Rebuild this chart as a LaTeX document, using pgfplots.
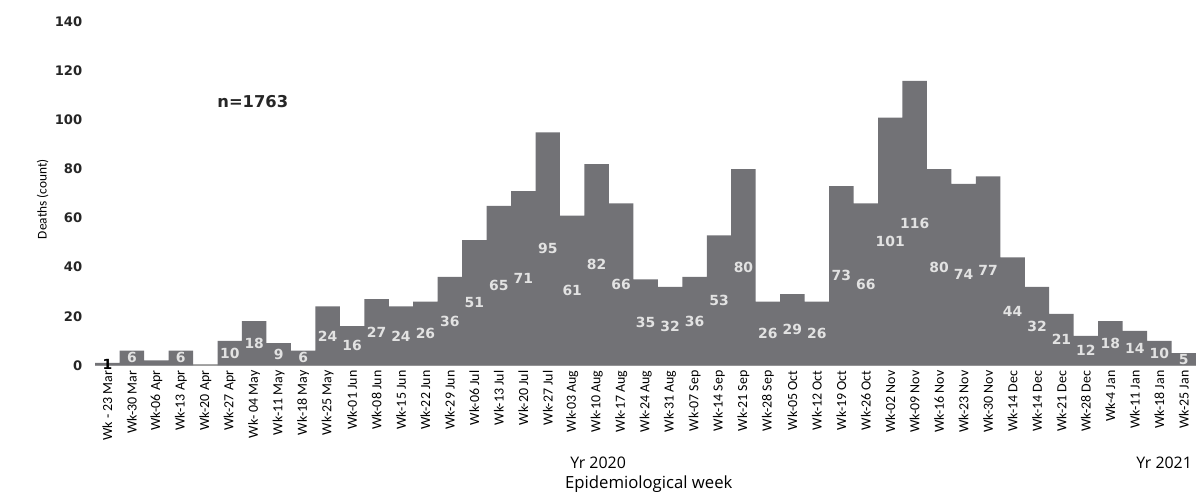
\documentclass[border=0pt]{standalone}
\usepackage{pgfplots}
\pgfplotsset{compat=1.18}
\usepackage{pgfplotstable}
\usepackage{fontspec}
\setmainfont{Carlito}
\newfontfamily\dejavu{DejaVu Sans}
\newfontfamily\opensans{Open Sans}

\definecolor{barfill}{RGB}{114,114,118}
\definecolor{lbl}{RGB}{226,226,226}

% deaths per epidemiological week
\pgfplotstableread{
x v
0 1
1 6
2 2
3 6
4 0
5 10
6 18
7 9
8 6
9 24
10 16
11 27
12 24
13 26
14 36
15 51
16 65
17 71
18 95
19 61
20 82
21 66
22 35
23 32
24 36
25 53
26 80
27 26
28 29
29 26
30 73
31 66
32 101
33 116
34 80
35 74
36 77
37 44
38 32
39 21
40 12
41 18
42 14
43 10
44 5
}\deaths

\begin{document}
\begin{tikzpicture}
\begin{axis}[
  scale only axis,
  width=553pt, height=172.5pt,
  xmin=-0.5, xmax=44.5,
  ymin=0, ymax=140,
  clip=false,
  axis x line*=bottom,
  axis y line*=left,
  y axis line style={draw=none},
  x axis line style={draw=gray!70, line width=0.8pt},
  tick style={draw=none},
  ytick={0,20,...,140},
  /pgf/number format/assume math mode=true,
  yticklabel style={font=\dejavu\bfseries\fontsize{6.6}{8}\selectfont, text=black!85, xshift=-3pt},
  xtick={0,...,44},
  xticklabels={Wk - 23 Mar,Wk-30 Mar,Wk-06 Apr,Wk-13 Apr,Wk-20 Apr,Wk-27 Apr,Wk- 04 May,Wk-11 May,Wk-18 May,Wk-25 May,Wk-01 Jun,Wk-08 Jun,Wk-15 Jun,Wk-22 Jun,Wk-29 Jun,Wk-06 Jul,Wk-13 Jul,Wk-20 Jul,Wk-27 Jul,Wk-03 Aug,Wk-10 Aug,Wk-17 Aug,Wk-24 Aug,Wk-31 Aug,Wk-07 Sep,Wk-14 Sep,Wk-21 Sep,Wk-28 Sep,Wk-05 Oct,Wk-12 Oct,Wk-19 Oct,Wk-26 Oct,Wk-02 Nov,Wk-09 Nov,Wk-16 Nov,Wk-23 Nov,Wk-30 Nov,Wk-14 Dec,Wk-14 Dec,Wk-21 Dec,Wk-28 Dec,Wk-4 Jan,Wk-11 Jan,Wk-18 Jan,Wk-25 Jan},
  xticklabel style={rotate=90, anchor=east, font=\fontsize{7}{8}\selectfont, inner sep=0pt, xshift=-2.5pt},
  ylabel={Deaths (count)},
  ylabel style={at={(rel axis cs:-0.0477,0.484)}, anchor=center, font=\fontsize{6.7}{7}\selectfont},
]
\addplot[
  ybar=0pt, bar width=1, fill=barfill, draw=none,
  visualization depends on={rawy \as \rawy},
  nodes near coords={\ifdim\rawy pt<1.5pt\ifdim\rawy pt>0.5pt\color{black}\pgfmathprintnumber{\pgfplotspointmeta}\fi\else\ifdim\rawy pt>2.5pt\pgfmathprintnumber{\pgfplotspointmeta}\fi\fi},
  every node near coord/.append style={anchor=center, shift={(axis direction cs:0,-\rawy/2)}, font=\dejavu\bfseries\fontsize{7}{8}\selectfont, text=lbl},
] table[x=x, y=v] {\deaths};

\node[font=\dejavu\bfseries\fontsize{8.2}{9}\selectfont, text=black!85] at (axis cs:5.94,107.5) {n=1763};
\node[font=\opensans\fontsize{8}{9}\selectfont] at (axis cs:20.06,-39.8) {Yr 2020};
\node[font=\opensans\fontsize{8}{9}\selectfont] at (axis cs:43.2,-39.8) {Yr 2021};
\node[font=\opensans\fontsize{8.4}{9}\selectfont] at (axis cs:22.13,-48.3) {Epidemiological week};

\coordinate (bl) at (rel axis cs:-0.0865,-0.371);
\coordinate (tr) at (rel axis cs:1.0,1.0638);
\end{axis}
\pgfresetboundingbox
\path[use as bounding box] (bl) rectangle (tr);
\end{tikzpicture}
\end{document}
